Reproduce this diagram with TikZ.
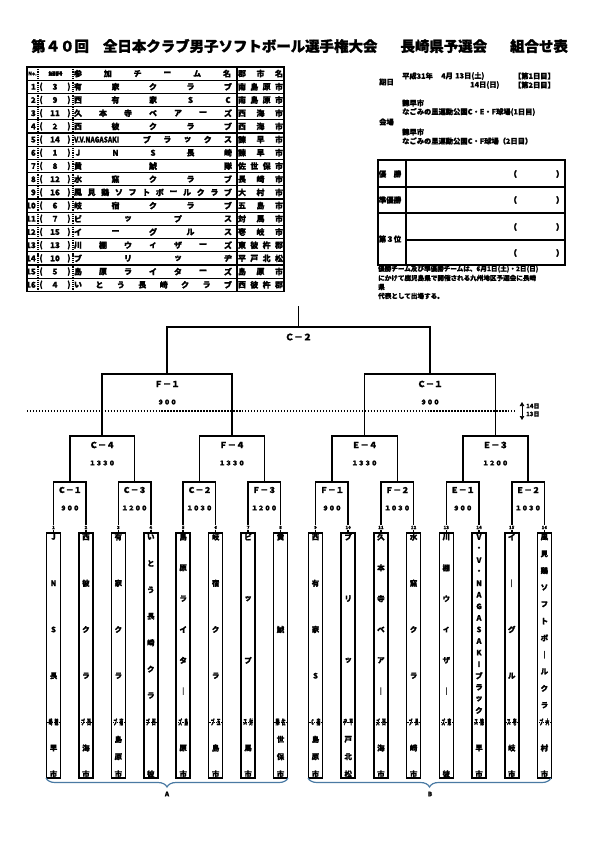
\documentclass[tikz,border=0pt]{standalone}
\usepackage{fontspec}
\setmainfont{Noto Sans CJK JP}[BoldFeatures={FakeBold=1.2}]
\usetikzlibrary{decorations.pathreplacing,arrows.meta}

\definecolor{braceblue}{RGB}{74,122,163}

\begin{document}
\begin{tikzpicture}[x=1bp,y=-1bp,
  txt/.style={inner sep=0pt,font=\bfseries\fontsize{8}{8}\selectfont},
  info/.style={inner sep=0pt,anchor=west,font=\bfseries\fontsize{7.3}{7.3}\selectfont},
  note/.style={inner sep=0pt,anchor=west,font=\bfseries\fontsize{6.6}{6.6}\selectfont},
  numlab/.style={inner sep=0.4pt,fill=white,font=\bfseries\fontsize{4.5}{4.5}\selectfont},
  colchar/.style={inner sep=0pt,font=\bfseries\fontsize{7.5}{7.5}\selectfont},
  teambox/.style={draw,line width=1.6pt,minimum width=14bp,minimum height=245bp,inner sep=0pt},
  match/.style={inner sep=0pt,font=\bfseries\fontsize{8.5}{8.5}\selectfont},
  clock/.style={inner sep=0pt,font=\bfseries\fontsize{6.5}{6.5}\selectfont},
  bline/.style={line width=1.6pt},
]
\useasboundingbox (0,0) rectangle (595,842);

% title
\node[anchor=west,inner sep=0pt,font=\bfseries\fontsize{14.5}{14.5}\selectfont] (title) at (31,46)
  {第４０回\hspace{14bp}全日本クラブ男子ソフトボール選手権大会\hspace{23bp}長崎県予選会\hspace{23bp}組合せ表};

% entry table
\draw[line width=1.8pt] (27,67) rectangle (284,291.4);
\foreach \k in {1,...,16}
  \draw[line width=1.3pt] (27,{67+13.2*\k}) -- (284,{67+13.2*\k});
\draw[line width=1.2pt,densely dotted] (38,67) -- (38,291.4);
\draw[line width=1.2pt,densely dotted] (73,67) -- (73,291.4);
\draw[line width=1.3pt] (237,67) -- (237,291.4);

\node[inner sep=0pt,font=\bfseries\fontsize{5}{5}\selectfont] (hno) at (32.5,73.6) {No.};
\node[inner sep=0pt,font=\bfseries\fontsize{5}{5}\selectfont] (hlot) at (55.5,73.6) {\scalebox{0.7}[1]{抽選番号}};
\foreach \c [count=\k] in {参,加,チ,ー,ム,名}
  \node[txt] (hteam\k) at ({78+29.8*(\k-1)},73.6) {\c};
\foreach \c [count=\k] in {郡,市,名}
  \node[txt] (hcity\k) at ({242+18.5*(\k-1)},73.6) {\c};

\foreach \r/\lot/\xa/\nt/\tm/\nc/\ct in {
  1/3/78/5/{有,家,ク,ラ,ブ}/4/{南,島,原,市},
  2/9/78/5/{西,有,家,S,C}/4/{南,島,原,市},
  3/11/78/7/{久,本,寺,ベ,ア,ー,ズ}/3/{西,海,市},
  4/2/78/5/{西,彼,ク,ラ,ブ}/3/{西,海,市},
  5/14/147/5/{ブ,ラ,ッ,ク,ス}/3/{諫,早,市},
  6/1/78/5/{J,N,S,長,崎}/3/{諫,早,市},
  7/8/78/3/{黄,鯱,隊}/4/{佐,世,保,市},
  8/12/78/5/{水,窯,ク,ラ,ブ}/3/{長,崎,市},
  9/16/78/12/{風,見,鶏,ソ,フ,ト,ボ,ー,ル,ク,ラ,ブ}/3/{大,村,市},
  10/6/78/5/{岐,宿,ク,ラ,ブ}/3/{五,島,市},
  11/7/78/4/{ビ,ッ,プ,ス}/3/{対,馬,市},
  12/15/78/5/{イ,ー,グ,ル,ス}/3/{壱,岐,市},
  13/13/78/7/{川,棚,ウ,ィ,ザ,ー,ズ}/4/{東,彼,杵,郡},
  14/10/78/4/{ブ,リ,ッ,ヂ}/4/{平,戸,北,松},
  15/5/78/7/{島,原,ラ,イ,タ,ー,ズ}/3/{島,原,市},
  16/4/78/8/{い,と,う,長,崎,ク,ラ,ブ}/4/{西,彼,杵,郡}}{
  \pgfmathsetmacro\ry{67+13.2*(\r+0.5)}
  \node[txt,anchor=east] (no\r) at (36,\ry) {\r};
  \node[txt] (lp\r) at (41,\ry) {(};
  \node[txt] (lot\r) at (55,\ry) {\lot};
  \node[txt] (rp\r) at (69,\ry) {)};
  \foreach \c [count=\k] in \tm
    \node[txt] (tm\r-\k) at ({\xa+(228-\xa)*(\k-1)/(\nt-1)},\ry) {\c};
  \foreach \c [count=\k] in \ct
    \node[txt] (ct\r-\k) at ({242+37*(\k-1)/(\nc-1)},\ry) {\c};
}
\node[txt,anchor=west] (vvn) at (74,{67+13.2*5.5}) {\scalebox{0.82}[1]{V.V.NAGASAKI}};

% date and place
\node[info] (dlab) at (379,82) {期日};
\node[info] (d1) at (402,76) {平成31年};
\node[info] (d2) at (441,76) {4月};
\node[info] (d3) at (455,76) {13日(土)};
\node[info,anchor=east] (d4) at (555,76) {【第1日目】};
\node[info] (d5) at (470,85) {14日(日)};
\node[info,anchor=east] (d6) at (555,85) {【第2日目】};
\node[info] (vlab) at (379,122) {会場};
\node[info] (v1) at (402,103) {諫早市};
\node[info] (v2) at (402,112) {なごみの里運動公園C・E・F球場(1日目)};
\node[info] (v3) at (402,132) {諫早市};
\node[info] (v4) at (402,141) {なごみの里運動公園C・F球場（2日目）};

% results
\draw[line width=1.8pt] (378,160) rectangle (565,265);
\draw[line width=1.8pt] (378,187) -- (565,187);
\draw[line width=1.8pt] (378,213) -- (565,213);
\draw[line width=1.8pt] (406,240) -- (565,240);
\draw[line width=1.5pt] (406,160) -- (406,265);
\node[txt,font=\bfseries\fontsize{7.5}{7.5}\selectfont] (win) at (390,174) {優　勝};
\node[txt,font=\bfseries\fontsize{7.5}{7.5}\selectfont] (second) at (390,200) {準優勝};
\node[txt,font=\bfseries\fontsize{7.5}{7.5}\selectfont] (third) at (390,239) {第３位};
\foreach \y [count=\k] in {174,200,227,253}{
  \node[txt] (po\k) at (513,\y) {（};
  \node[txt] (pc\k) at (560,\y) {）};
}
\node[note] (n1) at (378,269) {優勝チーム及び準優勝チームは、6月1日(土)・2日(日)};
\node[note] (n2) at (378,278) {にかけて鹿児島県で開催される九州地区予選会に長崎};
\node[note] (n3) at (378,287) {県};
\node[note] (n4) at (378,296) {代表として出場する。};

% team columns
\foreach \i/\nt/\tm/\nc/\ct in {
  1/5/{J,N,S,長,崎}/3/{諫,早,市},
  2/5/{西,彼,ク,ラ,ブ}/3/{西,海,市},
  3/5/{有,家,ク,ラ,ブ}/4/{南,島,原,市},
  4/8/{い,と,う,長,崎,ク,ラ,ブ}/2/{西,彼},
  5/7/{島,原,ラ,イ,タ,｜,ズ}/3/{島,原,市},
  6/5/{岐,宿,ク,ラ,ブ}/3/{五,島,市},
  7/4/{ビ,ッ,プ,ス}/3/{対,馬,市},
  8/3/{黄,鯱,隊}/4/{佐,世,保,市},
  9/5/{西,有,家,S,C}/4/{南,島,原,市},
  10/4/{ブ,リ,ッ,ヂ}/4/{平,戸,北,松},
  11/7/{久,本,寺,ベ,ア,｜,ズ}/3/{西,海,市},
  12/5/{水,窯,ク,ラ,ブ}/3/{長,崎,市},
  13/7/{川,棚,ウ,ィ,ザ,｜,ズ}/2/{東,彼},
  14/17/{V,・,V,・,N,A,G,A,S,A,K,I,ブ,ラ,ッ,ク,ス}/3/{諫,早,市},
  15/5/{イ,｜,グ,ル,ス}/3/{壱,岐,市},
  16/12/{風,見,鶏,ソ,フ,ト,ボ,｜,ル,ク,ラ,ブ}/3/{大,村,市}}{
  \pgfmathsetmacro\cx{\i<9 ? 53.5+32.43*(\i-1) : 315.5+32.7*(\i-9)}
  \node[teambox] (t\i) at (\cx,655.5) {};
  \draw[densely dotted,line width=0.8pt] (\cx-7,722) -- (\cx+7,722);
  \foreach \c [count=\k] in \tm {
    \ifnum\k<\nt
      \node[colchar] (c\i-\k) at (\cx,{537+185*(\k-1)/(\nt-1)}) {\c};
    \else
      \node[colchar] (c\i-\k) at (\cx-3,722) {\scalebox{0.5}[1]{\c}};
    \fi
  }
  \foreach \c [count=\k] in \ct {
    \ifnum\k=1
      \node[colchar] (d\i-\k) at (\cx+3,722) {\scalebox{0.5}[1]{\c}};
    \else
      \node[colchar] (d\i-\k) at (\cx,{722+52*(\k-1)/(\nc-1)}) {\c};
    \fi
  }
}

% first round
\foreach \j/\mx/\lab/\tm in {1/69.8/Ｃ－１/９００, 2/134.6/Ｃ－３/１２００, 3/199.5/Ｃ－２/１０３０,
  4/264.3/Ｆ－３/１２００, 5/331.9/Ｆ－１/９００, 6/397.3/Ｆ－２/１０３０,
  7/462.7/Ｅ－１/９００, 8/528.1/Ｅ－２/１０３０}{
  \coordinate (p\j) at (\mx,482);
  \node[match,font=\bfseries\fontsize{8}{8}\selectfont] (m\j) at (\mx,490) {\lab};
  \node[clock] (h\j) at (\mx,508) {\tm};
}
\foreach \j in {1,...,8}{
  \pgfmathtruncatemacro\a{2*\j-1}
  \pgfmathtruncatemacro\b{2*\j}
  \draw[bline] (t\a.north) |- (p\j) -| (t\b.north);
}
\foreach \i in {1,...,16}{
  \pgfmathsetmacro\cx{\i<9 ? 53.5+32.43*(\i-1) : 315.5+32.7*(\i-9)}
  \node[numlab] (n\i) at (\cx,527.5) {\i};
}

% quarter finals
\foreach \j/\mx/\lab/\tm in {1/102.2/Ｃ－４/１３３０, 2/231.9/Ｆ－４/１３３０,
  3/364.6/Ｅ－４/１３３０, 4/495.4/Ｅ－３/１２００}{
  \coordinate (q\j) at (\mx,436);
  \node[match] (mq\j) at (\mx,445) {\lab};
  \node[clock] (hq\j) at (\mx,463) {\tm};
  \pgfmathtruncatemacro\a{2*\j-1}
  \pgfmathtruncatemacro\b{2*\j}
  \draw[bline] (p\a) |- (q\j) -| (p\b);
}

% semi finals
\foreach \j/\mx/\lab/\tm in {1/167.1/Ｆ－１/９００, 2/430/Ｃ－１/９００}{
  \coordinate (s\j) at (\mx,374);
  \node[match] (ms\j) at (\mx,384) {\lab};
  \node[clock] (hs\j) at (\mx,402) {\tm};
  \pgfmathtruncatemacro\a{2*\j-1}
  \pgfmathtruncatemacro\b{2*\j}
  \draw[bline] (q\a) |- (s\j) -| (q\b);
}

% final
\coordinate (fin) at (298.5,327);
\coordinate (top) at (298.5,306);
\node[match,font=\bfseries\fontsize{9}{9}\selectfont] (mf) at (298.5,337) {Ｃ－２};
\draw[bline] (s1) |- (fin) -| (s2);
\draw[bline] (fin) -- (top);

% day line
\coordinate (dl) at (27,411);
\coordinate (dr) at (516,411);
\draw[line width=1.3pt,dash pattern=on 1.3pt off 1.7pt] (dl) -- (dr);
\coordinate (au) at (522,402);
\coordinate (ad) at (522,420);
\draw[line width=0.6pt,{Triangle[length=4bp,width=4.5bp]}-{Triangle[length=4bp,width=4.5bp]}] (au) -- (ad);
\node[inner sep=0pt,anchor=west,font=\bfseries\fontsize{6}{6}\selectfont] (day14) at (526,406) {14日};
\node[inner sep=0pt,anchor=west,font=\bfseries\fontsize{6}{6}\selectfont] (day13) at (526,414) {13日};

% blocks
\draw[braceblue,line width=1.2pt,decorate,decoration={brace,mirror,amplitude=9bp}] (46,778) -- (288,778);
\draw[braceblue,line width=1.2pt,decorate,decoration={brace,mirror,amplitude=9bp}] (308,778) -- (551,778);
\node[inner sep=0pt,font=\bfseries\fontsize{6.5}{6.5}\selectfont] (blkA) at (167,794) {A};
\node[inner sep=0pt,font=\bfseries\fontsize{6.5}{6.5}\selectfont] (blkB) at (430,794) {B};
\end{tikzpicture}
\end{document}
